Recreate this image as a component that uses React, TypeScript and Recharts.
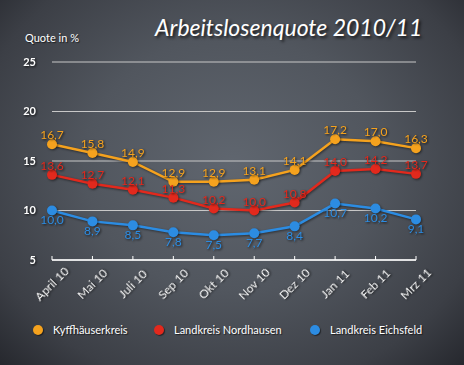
import React from 'react';
import { LineChart, Line, XAxis, YAxis, CartesianGrid, LabelList } from 'recharts';

const months = ['April 10', 'Mai 10', 'Juli 10', 'Sep 10', 'Okt 10', 'Nov 10', 'Dez 10', 'Jan 11', 'Feb 11', 'Mrz 11'];
const kyffhaeuser = [16.7, 15.8, 14.9, 12.9, 12.9, 13.1, 14.1, 17.2, 17.0, 16.3];
const nordhausen = [13.6, 12.7, 12.1, 11.3, 10.2, 10.0, 10.8, 14.0, 14.2, 13.7];
const eichsfeld = [10.0, 8.9, 8.5, 7.8, 7.5, 7.7, 8.4, 10.7, 10.2, 9.1];
const yTicks = [5, 10, 15, 20, 25];

const series = [
  { key: 'kyff', name: 'Kyffhäuserkreis', values: kyffhaeuser, color: '#f5a21e', pos: 'top' },
  { key: 'nord', name: 'Landkreis Nordhausen', values: nordhausen, color: '#e2291d', pos: 'top' },
  { key: 'eich', name: 'Landkreis Eichsfeld', values: eichsfeld, color: '#2c8ce2', pos: 'bottom' },
];

const data = months.map((m, i) => ({
  month: m,
  kyff: kyffhaeuser[i],
  nord: nordhausen[i],
  eich: eichsfeld[i],
}));

const FONT = 'Lato, "Open Sans", sans-serif';
const shadow = 'drop-shadow(1px 1px 1px rgba(0,0,0,0.75))';

const fmt = (v: any) => Number(v).toFixed(1).replace('.', ',');

const XTick = (props: any) => {
  const { x, y, payload } = props;
  const cy = y + 26;
  return (
    <text
      x={x}
      y={cy}
      textAnchor="middle"
      dominantBaseline="central"
      transform={`rotate(-45 ${x} ${cy})`}
      fill="#ffffff"
      fontSize={12}
      fontFamily={FONT}
      style={{ filter: shadow }}
    >
      {payload.value}
    </text>
  );
};

export default function App() {
  return (
    <div
      style={{
        position: 'absolute',
        left: 0,
        top: 0,
        width: 464,
        height: 365,
        overflow: 'hidden',
        background:
          'radial-gradient(ellipse at 50% 45%, #60666f 0%, #51565e 45%, #3c3f46 80%, #26282e 100%)',
        fontFamily: FONT,
      }}
    >
      <div
        style={{
          position: 'absolute',
          left: 155,
          top: 13,
          color: '#fff',
          fontSize: 23,
          fontStyle: 'italic',
          whiteSpace: 'nowrap',
          textShadow: '2px 2px 3px rgba(0,0,0,0.7)',
        }}
      >
        Arbeitslosenquote 2010/11
      </div>
      <div
        style={{
          position: 'absolute',
          left: 25,
          top: 31,
          color: '#fff',
          fontSize: 11,
          whiteSpace: 'nowrap',
          textShadow: '1px 1px 1px rgba(0,0,0,0.6)',
        }}
      >
        Quote in %
      </div>
      <LineChart
        width={464}
        height={365}
        data={data}
        margin={{ top: 62, right: 48, bottom: 65, left: 0 }}
        style={{ position: 'absolute', left: 0, top: 0 }}
      >
        <CartesianGrid horizontal vertical={false} stroke="#c8c8c8" strokeWidth={1} />
        <XAxis
          dataKey="month"
          interval={0}
          height={40}
          padding={{ left: 0, right: 0 }}
          axisLine={{ stroke: '#ffffff', strokeWidth: 1.5 }}
          tickLine={{ stroke: '#ffffff' }}
          tickSize={-4}
          tick={<XTick />}
        />
        <YAxis
          domain={[5, 25]}
          ticks={yTicks}
          width={52}
          axisLine={false}
          tickLine={false}
          tickSize={0}
          tickMargin={16}
          tick={{ fill: '#ffffff', fontSize: 11, fontWeight: 700, fontFamily: FONT, style: { filter: shadow } }}
        />
        {series.map((s) => (
          <Line
            key={s.key}
            dataKey={s.key}
            name={s.name}
            stroke={s.color}
            strokeWidth={2.5}
            dot={{ r: 5, fill: s.color, stroke: s.color, strokeWidth: 0 }}
            isAnimationActive={false}
            style={{ filter: 'drop-shadow(1px 1px 1px rgba(0,0,0,0.5))' }}
          >
            <LabelList
              dataKey={s.key}
              position={s.pos as any}
              offset={5}
              formatter={(v: any) => fmt(v)}
              fill={s.color}
              fontSize={12}
              fontFamily={FONT}
              style={{ filter: shadow }}
            />
          </Line>
        ))}
      </LineChart>
      {series.map((s, i) => (
        <div
          key={s.key}
          style={{
            position: 'absolute',
            left: [33, 154, 310][i],
            top: 323,
            display: 'flex',
            alignItems: 'center',
            whiteSpace: 'nowrap',
            color: '#fff',
            fontSize: 11,
            textShadow: '1px 1px 1px rgba(0,0,0,0.6)',
          }}
        >
          <span
            style={{
              display: 'inline-block',
              width: 10,
              height: 10,
              borderRadius: 5,
              background: s.color,
              marginRight: 10,
              boxShadow: '1px 1px 1px rgba(0,0,0,0.5)',
            }}
          />
          {s.name}
        </div>
      ))}
    </div>
  );
}
